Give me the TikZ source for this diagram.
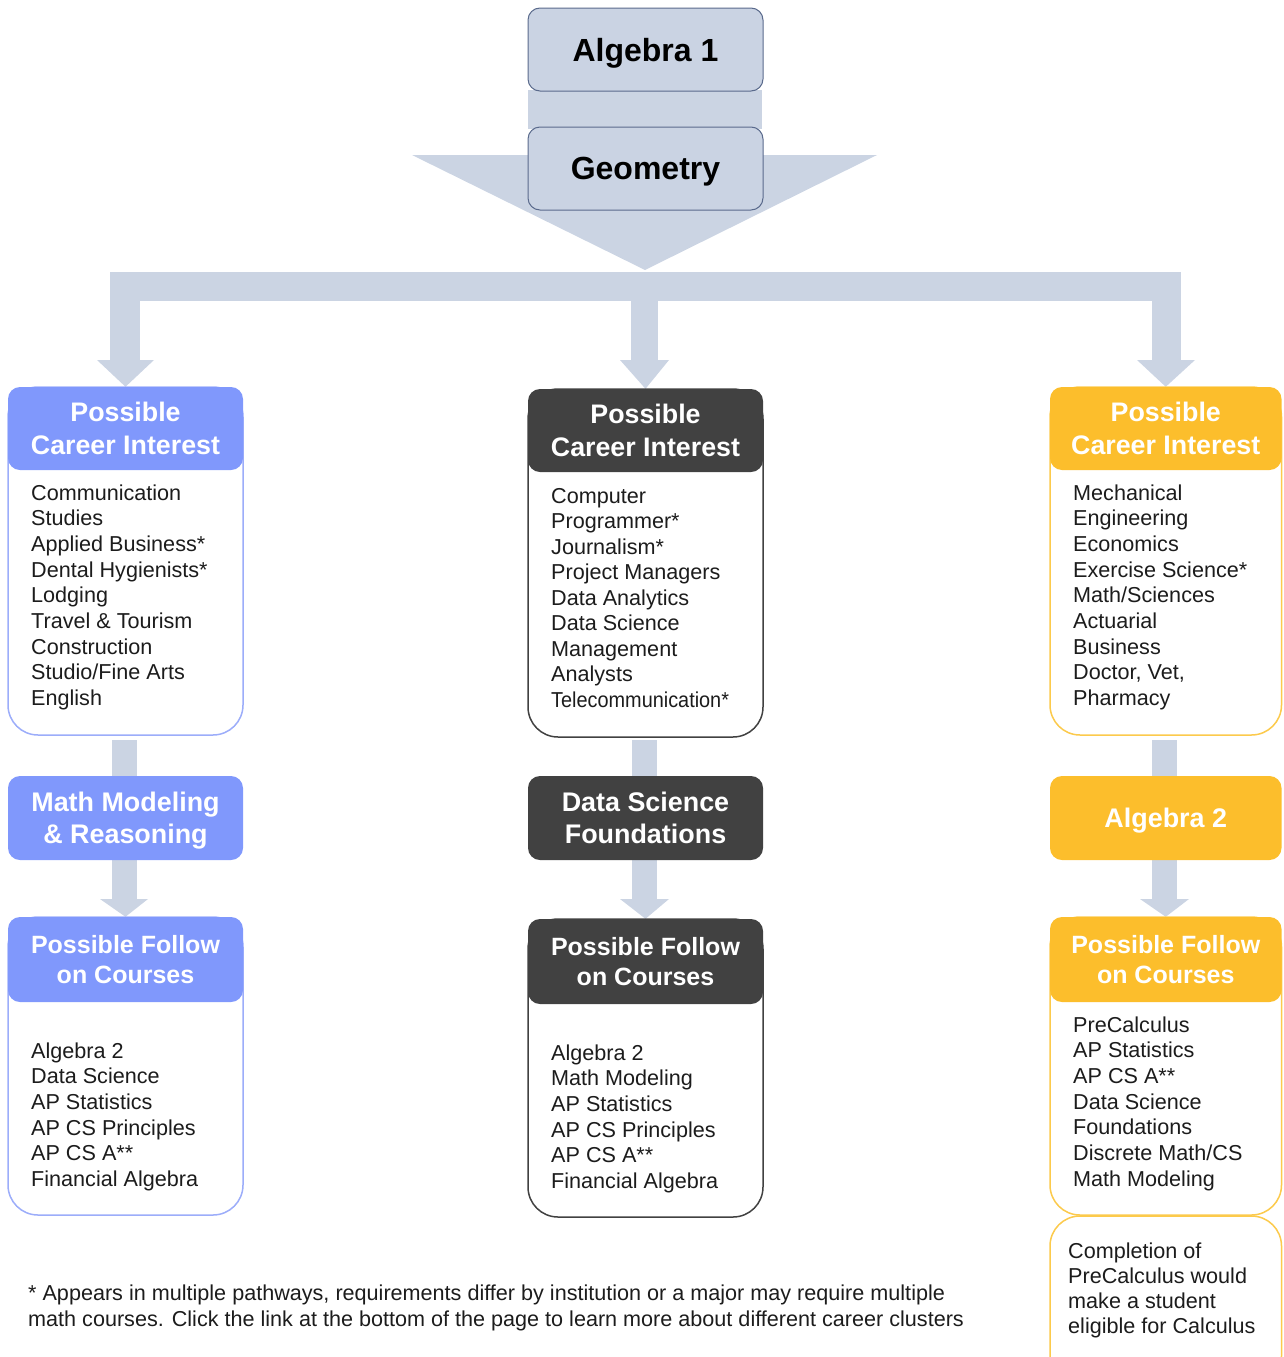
\documentclass[tikz,border=0pt]{standalone}
\usepackage{graphicx}
\usepackage{fontspec}
\setmainfont{Liberation Sans}
\usetikzlibrary{backgrounds,calc}
\definecolor{arrowC}{HTML}{CBD4E3}
\definecolor{topfill}{HTML}{CAD3E3}
\definecolor{topline}{HTML}{5A6A8C}
\definecolor{blueC}{HTML}{8098FC}
\definecolor{blueL}{HTML}{9CADFA}
\definecolor{darkC}{HTML}{414141}
\definecolor{goldC}{HTML}{FCBE2C}
\definecolor{goldL}{HTML}{FCCA4C}
\definecolor{txt}{HTML}{1C1C1C}
\newcommand\itemlist[5]{\foreach \t [count=\i] in {#5}{\node[itemtxt] (#1\i) at (#2,{#3+#4*(\i-1)}) {\t};}}
\begin{document}
\begin{tikzpicture}[x=1pt,y=-1pt,
  topbox/.style={draw=topline, line width=1pt, fill=topfill, rounded corners=12pt,
    minimum width=235pt, minimum height=83pt, inner sep=0pt, text depth=0pt,
    font=\fontsize{32}{36}\selectfont\bfseries, text=black},
  hdr/.style={fill=#1, rounded corners=12pt, minimum width=235pt, minimum height=83pt,
    inner sep=0pt, align=center, text=white, font=\fontsize{26.8}{33}\selectfont\bfseries},
  fhdr/.style={hdr=#1, minimum height=85pt, font=\fontsize{25}{30}\selectfont\bfseries},
  midbox/.style={hdr=#1, minimum height=84pt, text depth=0pt, font=\fontsize{26.9}{32}\selectfont\bfseries},
  frame/.style={draw=#1, line width=1.5pt, fill=white, rounded corners=30pt,
    minimum width=235pt, inner sep=0pt},
  itemtxt/.style={anchor=base west, inner sep=0pt, text=txt, font=\fontsize{21.6}{25}\selectfont},
  foot/.style={anchor=base west, inner sep=0pt, text=txt, font=\fontsize{21.6}{26}\selectfont}
]
\useasboundingbox (0,0) rectangle (1283,1357);
\clip (0,0) rectangle (1283,1357);

% top boxes
\node[topbox] (alg1) at (645.5,49.5) {Algebra 1};
\node[topbox] (geo) at (645.5,168.5) {Geometry};

% left column
\node[frame=blueL, minimum height=348pt] (lcb) at (125.5,561) {};
\node[hdr=blueC] (lch) at (125.5,428.5) {Possible\\Career Interest};
\node[midbox=blueC] (lmid) at (125.5,818) {Math Modeling\\\& Reasoning};
\node[frame=blueL, minimum height=298pt] (lfb) at (125.5,1066) {};
\node[fhdr=blueC] (lfh) at (125.5,959.5) {Possible Follow\\on Courses};

% centre column
\node[frame=darkC, minimum height=348pt] (ccb) at (645.5,563) {};
\node[hdr=darkC] (cch) at (645.5,430.5) {Possible\\Career Interest};
\node[midbox=darkC] (cmid) at (645.5,818) {Data Science\\Foundations};
\node[frame=darkC, minimum height=298pt] (cfb) at (645.5,1068) {};
\node[fhdr=darkC] (cfh) at (645.5,961.5) {Possible Follow\\on Courses};

% right column
\node[frame=goldL, minimum width=231.5pt, minimum height=348pt] (rcb) at (1165.75,561) {};
\node[hdr=goldC, minimum width=231.5pt] (rch) at (1165.75,428.5) {Possible\\Career Interest};
\node[midbox=goldC, minimum width=231.5pt] (rmid) at (1165.75,818) {Algebra 2};
\node[frame=goldL, minimum width=231.5pt, minimum height=298pt] (rfb) at (1165.75,1066) {};
\node[fhdr=goldC, minimum width=231.5pt] (rfh) at (1165.75,959.5) {Possible Follow\\on Courses};
\node[frame=goldL, minimum width=231.5pt, minimum height=170pt] (rnote) at (1165.75,1301) {};

% lists
\itemlist{la}{31}{500}{25.7}{Communication, Studies, Applied Business*, Dental Hygienists*, Lodging, Travel \& Tourism, Construction, Studio/Fine Arts, English}
\itemlist{ca}{551}{503}{25.5}{Computer, Programmer*, Journalism*, Project Managers, Data Analytics, Data Science, Management, Analysts, {\scalebox{0.92}[1]{Telecommunication*}}}
\itemlist{ra}{1073}{500}{25.7}{Mechanical, Engineering, Economics, Exercise Science*, Math/Sciences, Actuarial, Business, {Doctor, Vet,}, Pharmacy}
\itemlist{lb}{31}{1058}{25.7}{Algebra 2, Data Science, AP Statistics, AP CS Principles, AP CS A**, Financial Algebra}
\itemlist{cb}{551}{1060}{25.7}{Algebra 2, Math Modeling, AP Statistics, AP CS Principles, AP CS A**, Financial Algebra}
\itemlist{rb}{1073}{1032}{25.7}{PreCalculus, AP Statistics, AP CS A**, Data Science, Foundations, Discrete Math/CS, Math Modeling}
\itemlist{rn}{1068}{1258}{25.2}{Completion of, PreCalculus would, make a student, eligible for Calculus}

% footnote
\node[foot] (f1) at (28,1300) {* Appears in multiple pathways, requirements differ by institution or a major may require multiple};
\node[foot] (f2) at (28,1326) {math courses. Click the link at the bottom of the page to learn more about different career clusters};

% block arrows
\begin{scope}[on background layer]
  \fill[arrowC] ($(alg1.south west)+(0,-2)$) rectangle ($(geo.north east)+(-2,2)$);
  \fill[arrowC] (412,155) -- (877,155) -- (645,270) -- cycle;
  \fill[arrowC] (110,272) rectangle (1181,301);
  \fill[arrowC] (110,272) rectangle (140,361);
  \fill[arrowC] (97,360) -- (154,360) -- (lch.north) -- cycle;
  \fill[arrowC] (631,290) rectangle (658,361);
  \fill[arrowC] (620,360) -- (669,360) -- (cch.north) -- cycle;
  \fill[arrowC] (1152,272) rectangle (1181,361);
  \fill[arrowC] (1137,360) -- (1195,360) -- (rch.north) -- cycle;
  % column arrows
  \fill[arrowC] (112,740) rectangle (137,900);
  \fill[arrowC] (100,899) -- (148,899) -- (lfh.north) -- cycle;
  \fill[arrowC] (632,740) rectangle (657,900);
  \fill[arrowC] (620,899) -- (669,899) -- (cfh.north) -- cycle;
  \fill[arrowC] (1152,740) rectangle (1177,900);
  \fill[arrowC] (1140,899) -- (1189,899) -- (rfh.north) -- cycle;
\end{scope}
\end{tikzpicture}
\end{document}
